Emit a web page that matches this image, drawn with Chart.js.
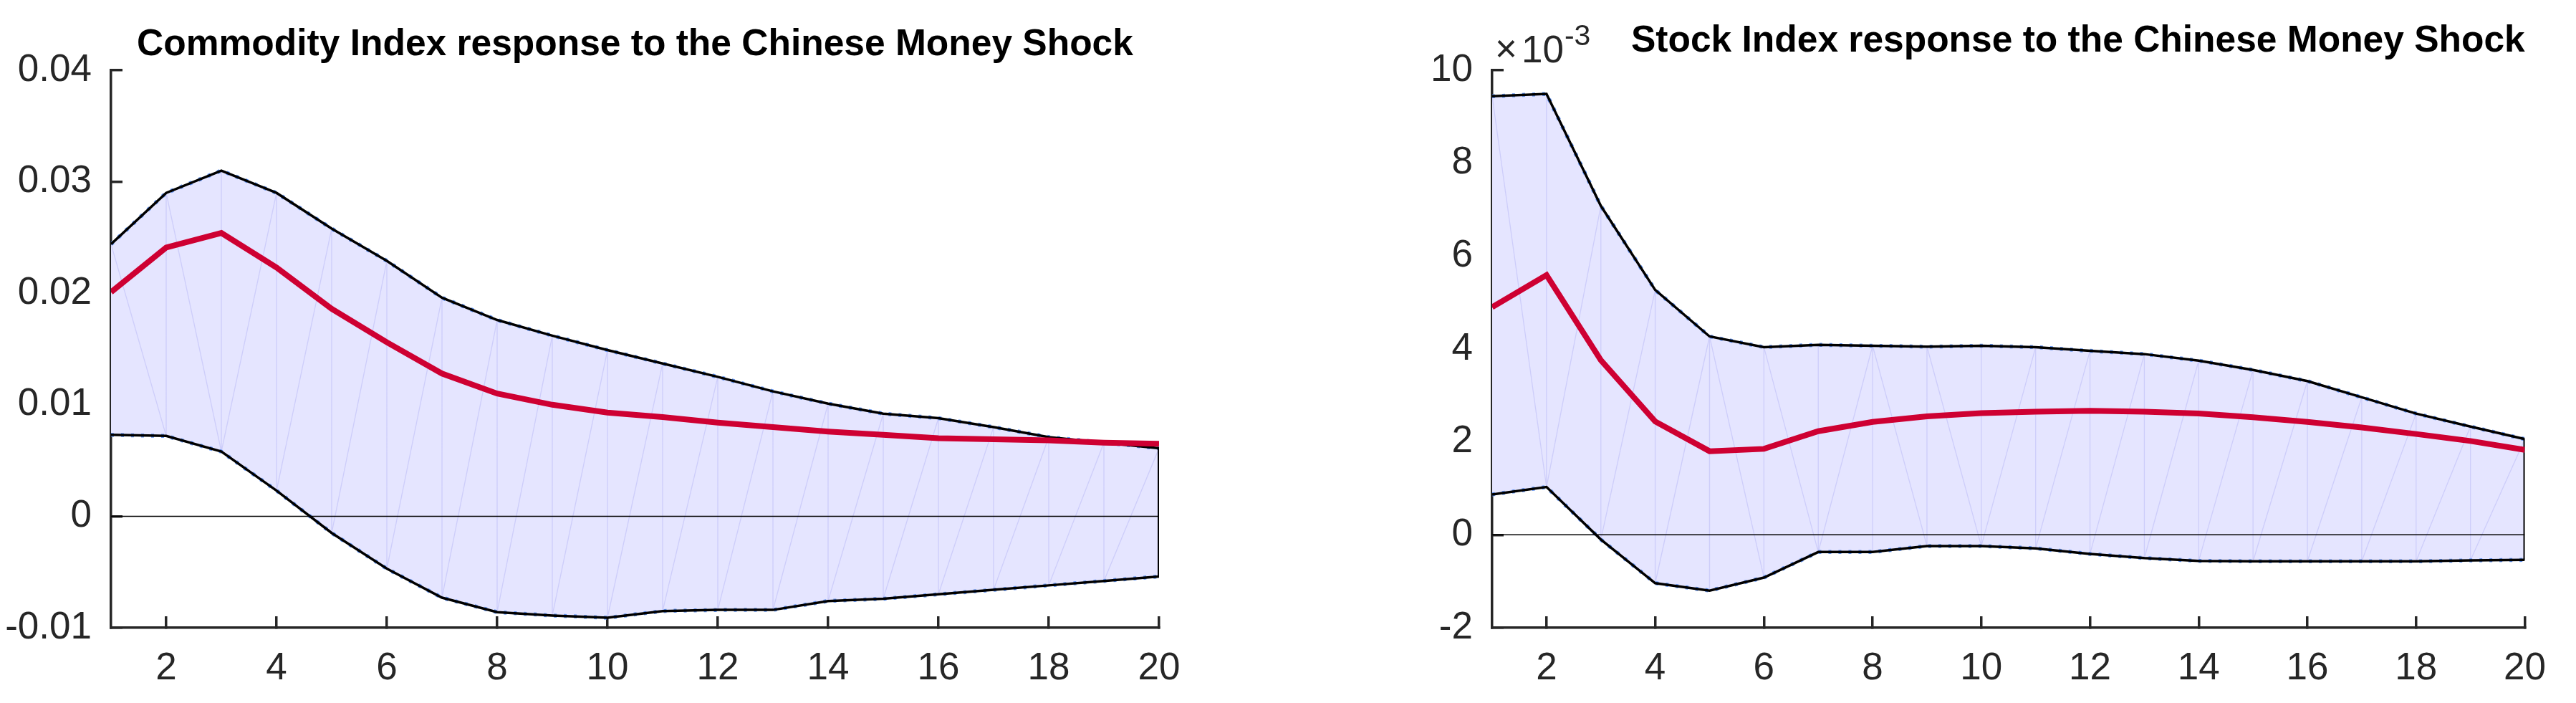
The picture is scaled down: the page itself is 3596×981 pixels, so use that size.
<!DOCTYPE html>
<html><head><meta charset="utf-8">
<script src="https://cdn.jsdelivr.net/npm/chart.js@4/dist/chart.umd.min.js"></script>
<style>
html,body{margin:0;padding:0;background:#fff;width:3596px;height:981px;overflow:hidden}
canvas{position:absolute;top:0}
#c1{left:0}
#c2{left:1800px}
</style></head><body>
<canvas id="c1" width="1780" height="981"></canvas>
<canvas id="c2" width="1796" height="981"></canvas>
<script>
// ---------------- data ----------------
const horizons = [1,2,3,4,5,6,7,8,9,10,11,12,13,14,15,16,17,18,19,20];

const commodityMedian = [0.0201,0.0241,0.0254,0.0223,0.0186,0.0156,0.0128,0.0110,0.0100,0.0093,0.0089,0.0084,0.0080,0.0076,0.0073,0.0070,0.0069,0.0068,0.0066,0.0065];
const commodityUpper  = [0.0244,0.0290,0.0310,0.0290,0.0258,0.0229,0.0196,0.0176,0.0162,0.0149,0.0137,0.0125,0.0112,0.0101,0.0092,0.0088,0.0080,0.0071,0.0066,0.0061];
const commodityLower  = [0.0073,0.0072,0.0058,0.0023,-0.0015,-0.0047,-0.0073,-0.0086,-0.0089,-0.0091,-0.0085,-0.0084,-0.0084,-0.0076,-0.0074,-0.0070,-0.0066,-0.0062,-0.0058,-0.0054];
// fill-mesh diagonal per segment: true = from upper(i) to lower(i+1), false = from lower(i) to upper(i+1)
const commodityMeshDown = [true,true,false,false,false,false,false,false,false,false,false,false,false,false,false,false,false,false,false];

const stockMedian = [4.90e-3,5.59e-3,3.76e-3,2.44e-3,1.80e-3,1.85e-3,2.23e-3,2.43e-3,2.55e-3,2.62e-3,2.65e-3,2.67e-3,2.65e-3,2.61e-3,2.53e-3,2.43e-3,2.31e-3,2.17e-3,2.02e-3,1.83e-3];
const stockUpper  = [9.44e-3,9.49e-3,7.08e-3,5.27e-3,4.27e-3,4.04e-3,4.09e-3,4.07e-3,4.05e-3,4.07e-3,4.04e-3,3.96e-3,3.89e-3,3.75e-3,3.55e-3,3.31e-3,2.96e-3,2.61e-3,2.33e-3,2.06e-3];
const stockLower  = [0.87e-3,1.03e-3,-0.10e-3,-1.04e-3,-1.20e-3,-0.92e-3,-0.37e-3,-0.37e-3,-0.24e-3,-0.24e-3,-0.29e-3,-0.41e-3,-0.50e-3,-0.56e-3,-0.57e-3,-0.57e-3,-0.57e-3,-0.57e-3,-0.55e-3,-0.54e-3];
const stockMeshDown = [true,false,false,false,true,true,false,true,true,false,false,false,false,false,false,false,false,false,false];

const xTickValues = [2,4,6,8,10,12,14,16,18,20];
const xTickLabels = ['2','4','6','8','10','12','14','16','18','20'];
const commodityYTicks = [-0.01,0,0.01,0.02,0.03,0.04];
const commodityYLabels = ['-0.01','0','0.01','0.02','0.03','0.04'];
const stockYTicks = [-0.002,0,0.002,0.004,0.006,0.008,0.010];
const stockYLabels = ['-2','0','2','4','6','8','10'];

const commodityTitle = 'Commodity Index response to the Chinese Money Shock';
const stockTitle = 'Stock Index response to the Chinese Money Shock';
const stockExponentBase = '10';
const stockExponent = '-3';

// ---------------- styling ----------------
const FONT = '"Liberation Sans", Arial, Helvetica, sans-serif';
const AXIS = '#262626';
const RED = '#CE0032';
const BAND = 'rgb(229,229,255)';
const MESH = 'rgba(185,185,245,0.55)';
const EDGE_BLUE = 'rgba(80,135,240,0.9)';

const pts = (xs, ys) => xs.map((x, i) => ({x, y: ys[i]}));

function meshPoints(xs, up, lo, down) {
  const out = [];
  for (let i = 1; i < xs.length - 1; i++) {
    out.push({x: xs[i], y: lo[i]}, {x: xs[i], y: up[i]}, {x: xs[i], y: null});
  }
  for (let i = 0; i < xs.length - 1; i++) {
    if (down[i]) out.push({x: xs[i], y: up[i]}, {x: xs[i+1], y: lo[i+1]});
    else out.push({x: xs[i], y: lo[i]}, {x: xs[i+1], y: up[i+1]});
    out.push({x: xs[i+1], y: null});
  }
  return out;
}

const annotPlugin = {
  id: 'annot',
  afterDraw(chart, args, o) {
    const ctx = chart.ctx, a = chart.chartArea;
    ctx.save();
    ctx.fillStyle = '#000';
    ctx.font = 'bold 51.5px ' + FONT;
    ctx.textBaseline = 'alphabetic';
    if (o.align === 'center') {
      ctx.textAlign = 'center';
      ctx.fillText(o.title, (a.left + a.right) / 2, o.baseline);
    } else {
      ctx.textAlign = 'left';
      ctx.fillText(o.title, a.left + o.offset, o.baseline);
    }
    if (o.expBase) {
      ctx.fillStyle = AXIS;
      ctx.textAlign = 'left';
      ctx.font = '53px ' + FONT;
      ctx.fillText('\u00d7', a.left + 4, 86);
      ctx.fillText(o.expBase, a.left + 41, 87);
      const w = ctx.measureText(o.expBase).width;
      ctx.font = '41px ' + FONT;
      ctx.fillText(o.exp, a.left + 41 + w + 1, 63);
    }
    ctx.restore();
  }
};

function makeChart(id, cfg) {
  const n = horizons.length;
  const datasets = [
    {data: pts(horizons, cfg.median), borderColor: RED, borderWidth: 8},
    {data: pts(horizons, cfg.upper), borderColor: '#000', borderWidth: 3.5},
    {data: pts(horizons, cfg.lower), borderColor: '#000', borderWidth: 3.5},
    {data: [{x: horizons[n-1], y: cfg.lower[n-1]}, {x: horizons[n-1], y: cfg.upper[n-1]}], borderColor: '#000', borderWidth: 4},
    {data: [{x: horizons[0], y: 0}, {x: horizons[n-1], y: 0}], borderColor: '#000', borderWidth: 1.5},
    {data: pts(horizons, cfg.upper), borderColor: EDGE_BLUE, borderWidth: 5.5, borderDash: [4, 10]},
    {data: pts(horizons, cfg.lower), borderColor: EDGE_BLUE, borderWidth: 5.5, borderDash: [4, 10]},
    {data: meshPoints(horizons, cfg.upper, cfg.lower, cfg.mesh), borderColor: MESH, borderWidth: 1.3, spanGaps: false},
    {data: pts(horizons, cfg.upper), borderColor: 'rgba(0,0,0,0)', borderWidth: 1, backgroundColor: BAND, fill: {target: 9}},
    {data: pts(horizons, cfg.lower), borderColor: 'rgba(0,0,0,0)', borderWidth: 1, fill: false}
  ];
  datasets.forEach(d => { d.pointRadius = 0; d.tension = 0; d.showLine = true; if (d.fill === undefined) d.fill = false; d.borderCapStyle = 'butt'; d.borderJoinStyle = 'miter'; });

  const gridOpts = {drawOnChartArea: false, drawTicks: true, tickLength: -16, color: AXIS, lineWidth: 3.5};
  const borderOpts = {display: true, color: AXIS, width: 3.5};

  return new Chart(document.getElementById(id), {
    type: 'line',
    data: {datasets},
    plugins: [annotPlugin],
    options: {
      responsive: false,
      animation: false,
      devicePixelRatio: 1,
      spanGaps: false,
      layout: {padding: {top: 98, right: cfg.padRight, left: 0, bottom: 0}},
      plugins: {
        legend: {display: false},
        tooltip: {enabled: false},
        title: {display: false},
        annot: cfg.annot
      },
      scales: {
        x: {
          type: 'linear', min: 1, max: 20,
          afterBuildTicks: s => { s.ticks = xTickValues.map(v => ({value: v})); },
          afterFit: s => { s.height = 105; },
          grid: gridOpts, border: borderOpts,
          ticks: {color: AXIS, font: {family: FONT, size: 53}, padding: 42, maxRotation: 0, minRotation: 0, autoSkip: false,
                  callback: (v, i) => xTickLabels[i]}
        },
        y: {
          type: 'linear', min: cfg.yTicks[0], max: cfg.yTicks[cfg.yTicks.length - 1],
          afterBuildTicks: s => { s.ticks = cfg.yTicks.map(v => ({value: v})); },
          afterFit: s => { s.width = cfg.yWidth; },
          grid: gridOpts, border: borderOpts,
          ticks: {color: AXIS, font: {family: FONT, size: 53}, padding: 43, autoSkip: false,
                  callback: (v, i) => cfg.yLabels[i]}
        }
      }
    }
  });
}

makeChart('c1', {
  median: commodityMedian, upper: commodityUpper, lower: commodityLower, mesh: commodityMeshDown,
  yTicks: commodityYTicks, yLabels: commodityYLabels,
  yWidth: 155, padRight: 162,
  annot: {title: commodityTitle, align: 'center', baseline: 77}
});

makeChart('c2', {
  median: stockMedian, upper: stockUpper, lower: stockLower, mesh: stockMeshDown,
  yTicks: stockYTicks, yLabels: stockYLabels,
  yWidth: 283, padRight: 46,
  annot: {title: stockTitle, align: 'left', offset: 194, baseline: 72, expBase: stockExponentBase, exp: stockExponent}
});
</script>
</body></html>
